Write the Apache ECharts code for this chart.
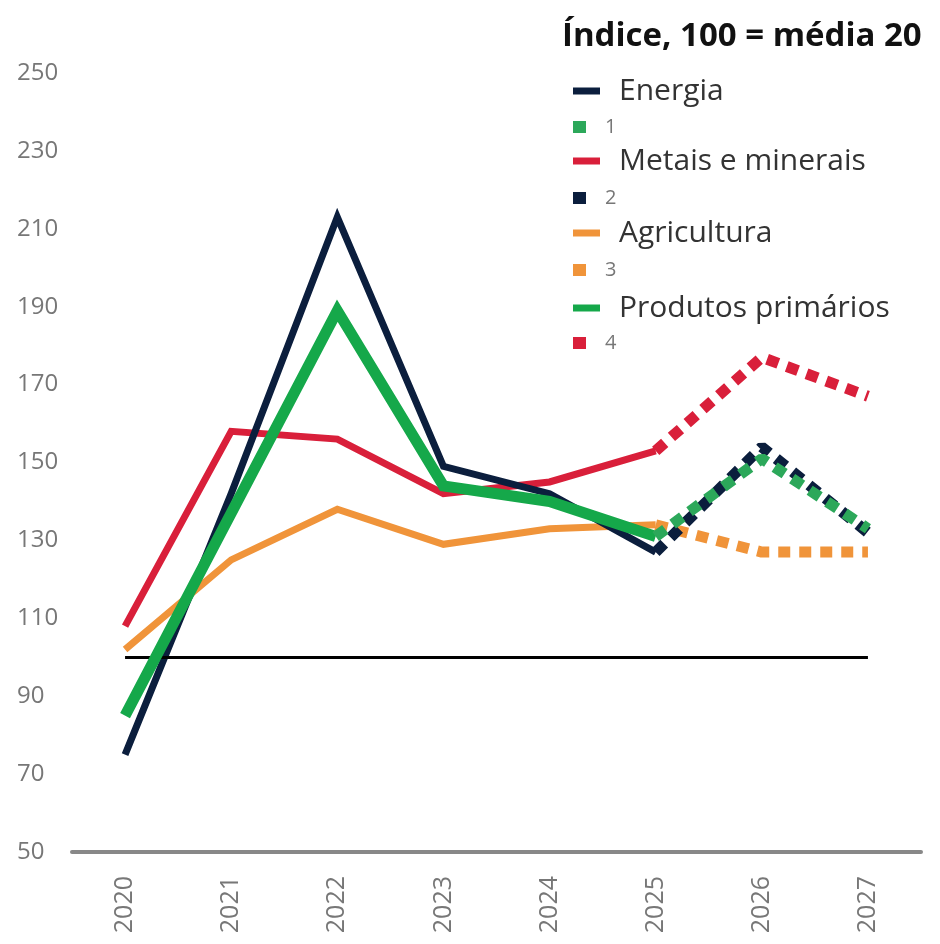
<!DOCTYPE html>
<html>
<head>
<meta charset="utf-8">
<script src="https://cdn.jsdelivr.net/npm/echarts@6/dist/echarts.min.js"></script>
<style>
html,body{margin:0;padding:0;background:#fff;}
#chart{width:940px;height:944px;}
</style>
</head>
<body>
<div id="chart"></div>
<script>
var years = ['2020','2021','2022','2023','2024','2025','2026','2027'];
var yTicks = [50, 70, 90, 110, 130, 150, 170, 190, 210, 230, 250];
var energia      = [75, 142, 213, 149, 142, 127, null, null];
var metais       = [108, 158, 156, 142, 145, 153, null, null];
var agricultura  = [102, 125, 138, 129, 133, 134, null, null];
var produtos     = [85, 137, 189, 144, 140, 131, null, null];
var proj1 = [null, null, null, null, null, 131, 151, 133]; // Produtos primários (proj.)
var proj2 = [null, null, null, null, null, 127, 154, 132]; // Energia (proj.)
var proj3 = [null, null, null, null, null, 134, 127, 127]; // Agricultura (proj.)
var proj4 = [null, null, null, null, null, 153, 177, 167]; // Metais (proj.)
var refLevel = 100;

var NAVY = '#0b1e3d', GREEN = '#15a84a', RED = '#d91f3a', ORANGE = '#f0943a', GREEN2 = '#2ca85a';
var FONT = '"Open Sans", "Noto Sans", sans-serif';

function solid(name, data, color, width, z) {
  return {name: name, type: 'line', data: data, symbol: 'none', z: z,
    lineStyle: {color: color, width: width, cap: 'butt', join: 'miter'},
    itemStyle: {color: color}, silent: true, animation: false};
}
function dotted(name, data, color, z) {
  return {name: name, type: 'line', data: data, symbol: 'none', z: z,
    lineStyle: {color: color, width: 11, type: [12, 9], cap: 'butt'},
    itemStyle: {color: color}, silent: true, animation: false};
}
function legendItem(name, top, isLine, color, textColor, fs) {
  return {
    data: [{name: name, icon: 'rect', itemStyle: {color: color}}],
    left: 573, top: top, padding: 0, orient: 'vertical',
    itemWidth: isLine ? 27 : 13, itemHeight: isLine ? 7 : 12,
    itemGap: 0, selectedMode: false,
    textStyle: {color: textColor, fontSize: fs, fontFamily: FONT, padding: [0, 0, 0, 14], lineHeight: 32, height: 32}
  };
}

var chart = echarts.init(document.getElementById('chart'), null, {renderer: 'canvas'});
chart.setOption({
  animation: false,
  backgroundColor: '#fff',
  title: {text: 'Índice, 100 = média 20', left: 557, top: 15,
    textStyle: {fontFamily: FONT, fontWeight: 'bold', fontSize: 33, color: '#111'}},
  legend: [
    legendItem('Energia', 75, true, NAVY, '#333', 30),
    legendItem('1', 111, false, GREEN2, '#777', 20),
    legendItem('Metais e minerais', 145, true, RED, '#333', 30),
    legendItem('2', 182, false, NAVY, '#777', 20),
    legendItem('Agricultura', 217, true, ORANGE, '#333', 30),
    legendItem('3', 254, false, ORANGE, '#777', 20),
    legendItem('Produtos primários', 292, true, GREEN, '#333', 30),
    legendItem('4', 327, false, RED, '#777', 20)
  ],
  grid: {left: 72, right: 19, top: 73, bottom: 92, containLabel: false},
  xAxis: {
    type: 'category', data: years, boundaryGap: true,
    axisLine: {show: true, lineStyle: {color: '#888', width: 4}},
    axisTick: {show: false},
    axisLabel: {rotate: 90, margin: 24, fontSize: 25, color: '#777', fontFamily: FONT}
  },
  yAxis: {
    type: 'value', min: yTicks[0], max: yTicks[yTicks.length - 1], interval: 20,
    axisLine: {show: false}, axisTick: {show: false}, splitLine: {show: false},
    axisLabel: {align: 'left', margin: 55, fontSize: 24, color: '#777', fontFamily: FONT}
  },
  series: [
    solid('Agricultura', agricultura, ORANGE, 7, 2),
    solid('Metais e minerais', metais, RED, 7, 3),
    solid('Energia', energia, NAVY, 7, 4),
    Object.assign(solid('Produtos primários', produtos, GREEN, 11, 5), {
      markLine: {silent: true, symbol: 'none', animation: false, label: {show: false},
        lineStyle: {color: '#000', width: 3, type: 'solid'},
        data: [[{coord: [years[0], refLevel]}, {coord: [years[years.length - 1], refLevel]}]]}
    }),
    dotted('3', proj3, ORANGE, 6),
    dotted('4', proj4, RED, 6),
    dotted('2', proj2, NAVY, 7),
    dotted('1', proj1, GREEN2, 8)
  ]
});
</script>
</body>
</html>
